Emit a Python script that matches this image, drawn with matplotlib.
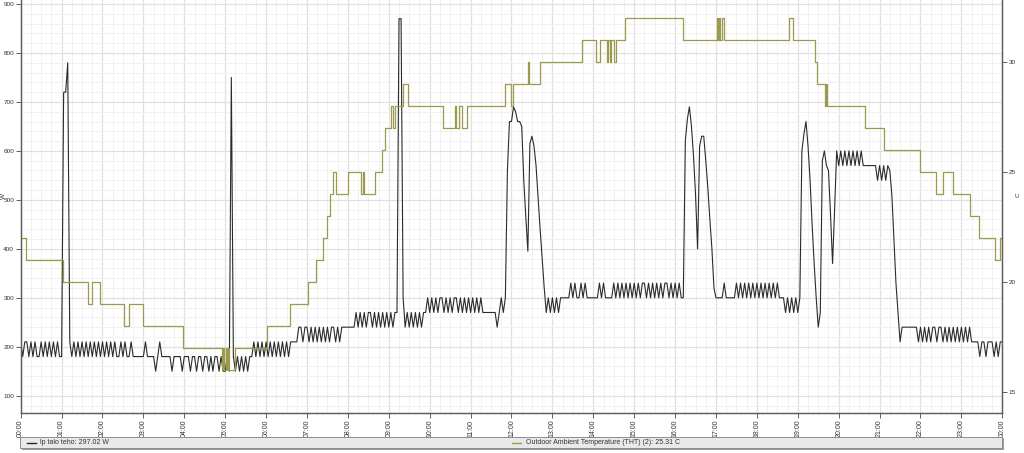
import matplotlib.pyplot as plt
import numpy as np
from matplotlib.ticker import MultipleLocator, FixedLocator
from matplotlib.patches import Rectangle
from matplotlib.lines import Line2D

# -----------------------data-----------------------
# lp talo teho (W), one reading every 3 minutes, one row per hour
sample_min = 3
power_rows = [
    [210, 180, 210, 210, 180, 210, 180, 210, 180, 180, 210, 180, 210, 180, 210, 180, 210, 180, 210, 180],  # 00
    [180, 720, 720, 780, 210, 180, 210, 180, 210, 180, 210, 180, 210, 180, 210, 180, 210, 180, 210, 180],  # 01
    [210, 180, 210, 180, 210, 180, 210, 180, 180, 210, 180, 210, 180, 180, 210, 180, 180, 180, 180, 180],  # 02
    [180, 210, 180, 180, 180, 180, 150, 180, 210, 180, 180, 180, 180, 180, 150, 180, 180, 180, 180, 150],  # 03
    [180, 180, 180, 150, 180, 180, 150, 180, 180, 150, 180, 180, 150, 180, 150, 180, 180, 150, 180, 150],  # 04
    [150, 180, 150, 750, 180, 150, 180, 150, 180, 150, 180, 150, 180, 180, 210, 180, 210, 180, 210, 180],  # 05
    [210, 180, 210, 180, 210, 180, 210, 180, 210, 180, 210, 180, 210, 210, 210, 210, 240, 240, 210, 240],  # 06
    [240, 210, 240, 210, 240, 210, 240, 210, 240, 210, 240, 210, 240, 240, 210, 240, 210, 240, 240, 240],  # 07
    [240, 240, 240, 240, 270, 240, 270, 240, 270, 240, 270, 270, 240, 270, 240, 270, 240, 270, 240, 270],  # 08
    [240, 270, 240, 270, 270, 870, 870, 300, 240, 270, 240, 270, 240, 270, 240, 270, 240, 270, 270, 300],  # 09
    [270, 300, 270, 300, 270, 300, 300, 270, 300, 270, 300, 270, 300, 300, 270, 300, 270, 300, 270, 300],  # 10
    [270, 300, 270, 300, 270, 300, 270, 270, 270, 270, 270, 270, 270, 240, 270, 300, 270, 300, 560, 660],  # 11
    [660, 690, 680, 660, 660, 650, 540, 465, 395, 615, 630, 610, 570, 505, 440, 380, 320, 270, 300, 270],  # 12
    [300, 270, 300, 270, 300, 300, 300, 300, 300, 330, 300, 330, 300, 300, 330, 300, 330, 300, 300, 300],  # 13
    [300, 300, 300, 330, 300, 330, 300, 300, 300, 300, 330, 300, 330, 300, 330, 300, 330, 300, 330, 300],  # 14
    [330, 300, 330, 300, 330, 330, 300, 330, 300, 330, 300, 330, 300, 330, 300, 330, 330, 300, 330, 300],  # 15
    [330, 300, 330, 300, 300, 620, 665, 690, 650, 590, 510, 400, 610, 630, 630, 580, 525, 460, 400, 320],  # 16
    [300, 300, 300, 300, 330, 300, 300, 300, 300, 300, 330, 300, 330, 300, 330, 300, 330, 300, 330, 300],  # 17
    [330, 300, 330, 300, 330, 300, 330, 300, 330, 300, 330, 300, 300, 300, 270, 300, 270, 300, 270, 300],  # 18
    [270, 300, 600, 635, 660, 610, 540, 450, 370, 300, 240, 270, 580, 600, 570, 560, 470, 370, 480, 600],  # 19
    [570, 600, 570, 600, 570, 600, 570, 600, 570, 600, 570, 600, 570, 570, 570, 570, 570, 570, 570, 540],  # 20
    [570, 540, 570, 540, 570, 560, 510, 420, 330, 270, 210, 240, 240, 240, 240, 240, 240, 240, 240, 210],  # 21
    [240, 210, 240, 210, 240, 210, 240, 240, 210, 240, 240, 210, 240, 210, 240, 210, 240, 210, 240, 210],  # 22
    [240, 210, 240, 210, 240, 210, 210, 210, 210, 180, 210, 210, 180, 210, 210, 210, 180, 210, 180, 210],  # 23
]
power_last = 210  # 24:00

# Outdoor Ambient Temperature (THT) (2), C : (hour where value starts, value)
temp_hours = [0.00, 0.13, 1.04, 1.65, 1.75, 1.94, 2.53, 2.65, 2.98, 3.96,
              4.92, 4.95, 4.98, 5.01, 5.04, 5.07, 5.10, 5.24, 6.01, 6.58,
              7.03, 7.22, 7.38, 7.50, 7.56, 7.63, 7.71, 8.01, 8.33, 8.36,
              8.39, 8.66, 8.84, 8.90, 9.06, 9.10, 9.15, 9.35, 9.48, 10.33,
              10.61, 10.64, 10.72, 10.78, 10.90, 11.84, 12.00, 12.04, 12.41, 12.44,
              12.70, 13.72, 14.07, 14.17, 14.33, 14.36, 14.40, 14.44, 14.51, 14.55,
              14.77, 16.20, 17.02, 17.06, 17.08, 17.10, 17.14, 17.19, 18.79, 18.88,
              19.43, 19.48, 19.66, 19.69, 19.72, 20.64, 21.10, 21.99, 22.38, 22.55,
              22.80, 23.21, 23.44, 23.83, 23.94, 24.00]
temp_c = [22, 21, 20, 19, 20, 19, 18, 19, 18, 17,
          16, 17, 16, 17, 16, 17, 16, 17, 18, 19,
          20, 21, 22, 23, 24, 25, 24, 25, 24, 25,
          24, 25, 26, 27, 28, 27, 28, 29, 28, 27,
          28, 27, 28, 27, 28, 29, 28, 29, 30, 29,
          30, 31, 30, 31, 30, 31, 30, 31, 30, 31,
          32, 31, 32, 31, 32, 31, 32, 31, 32, 31,
          30, 29, 28, 29, 28, 27, 26, 25, 24, 25,
          24, 23, 22, 21, 22, 22]

hour_ticks = list(range(25))
hour_labels = ['00:00', '01:00', '02:00', '03:00', '04:00', '05:00', '06:00', '07:00',
               '08:00', '09:00', '10:00', '11:00', '12:00', '13:00', '14:00', '15:00',
               '16:00', '17:00', '18:00', '19:00', '20:00', '21:00', '22:00', '23:00', '00:00']
w_ticks = [100, 200, 300, 400, 500, 600, 700, 800, 900]
c_ticks = [15, 20, 25, 30]

power_name = 'lp talo teho: 297.02 W'
temp_name = 'Outdoor Ambient Temperature (THT) (2): 25.31 C'

# -----------------------fig configuration-----------------------
plt.rcParams['font.family'] = 'Liberation Sans'
W, H = 1024, 453
black = '#2b2b2b'
olive = '#9c9a4c'
axis_gray = '#5e5e5e'
text_gray = '#333333'
tick_size = 4.6
xtick_size = 5

power_w = np.array([v for row in power_rows for v in row] + [power_last])
power_t = np.arange(len(power_w)) * sample_min / 60.0

fig = plt.figure(figsize=(W / 100, H / 100), dpi=100)
ax = fig.add_axes([20.7 / W, 1 - 413 / H, (1002.3 - 20.7) / W, 413 / H])
ax2 = ax.twinx()

ax.set_xlim(0, 24)
ax.set_ylim(64.7, 908.2)
ax2.set_ylim(14.05, 32.82)

# grid
ax.xaxis.set_major_locator(FixedLocator(hour_ticks))
ax.xaxis.set_minor_locator(MultipleLocator(0.25))
ax.yaxis.set_major_locator(FixedLocator(w_ticks))
ax.yaxis.set_minor_locator(MultipleLocator(20))
ax.grid(which='minor', color='#f1f1f1', linewidth=0.7)
ax.grid(which='major', color='#e0e0e0', linewidth=0.9)
ax.set_axisbelow(True)

# lines
ax.plot(power_t, power_w, color=black, linewidth=0.8)
ax2.plot(temp_hours, temp_c, drawstyle='steps-post', color=olive, linewidth=0.9)

# ticks
ax.set_xticklabels(hour_labels, rotation=90)
ax2.set_yticks(c_ticks)
for a in (ax, ax2):
    a.tick_params(which='major', direction='out', length=3.5, width=0.7, color=axis_gray,
                  labelsize=tick_size, labelcolor=text_gray, pad=1.2)
    a.tick_params(which='minor', length=0)
    a.spines['top'].set_visible(False)
    for s in ('left', 'right', 'bottom'):
        a.spines[s].set_color(axis_gray)
        a.spines[s].set_linewidth(0.9)
ax.tick_params(axis='x', labelsize=xtick_size)

fig.text(1 / W, 1 - 196 / H, 'W', rotation=90, fontsize=tick_size, color=text_gray, ha='left', va='center')
fig.text(1021 / W, 1 - 195 / H, 'C', rotation=90, fontsize=tick_size, color=text_gray, ha='right', va='center')

# legend bar
fig.patches.append(Rectangle((22 / W, 1 - 450 / H), 982 / W, 12 / H, transform=fig.transFigure,
                             facecolor='#9d9d9d', edgecolor='none'))
fig.patches.append(Rectangle((20 / W, 1 - 448 / H), 982 / W, 11 / H, transform=fig.transFigure,
                             facecolor='#e9e9e9', edgecolor='#8c8c8c', linewidth=0.7))
ly = 1 - 442.5 / H
fig.lines.append(Line2D([27 / W, 36 / W], [ly, ly], transform=fig.transFigure, color=black, linewidth=1))
fig.text(40 / W, ly, power_name, fontsize=xtick_size, color=text_gray, va='center', ha='left')
fig.lines.append(Line2D([512 / W, 521 / W], [ly, ly], transform=fig.transFigure, color=olive, linewidth=1))
fig.text(526 / W, ly, temp_name, fontsize=xtick_size, color=text_gray, va='center', ha='left')

fig.savefig('out.png', dpi=100)
